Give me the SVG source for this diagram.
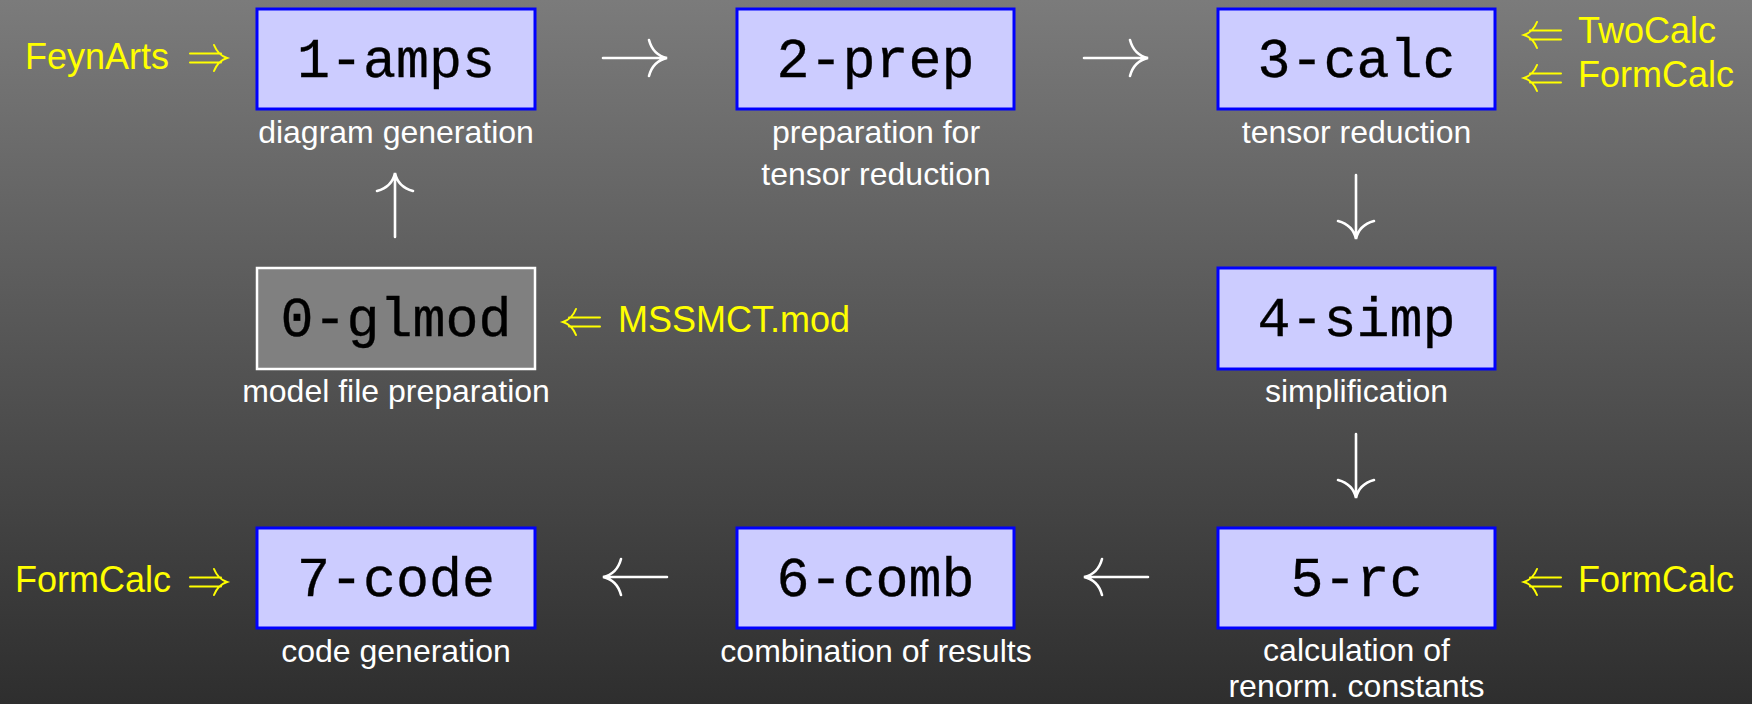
<svg xmlns="http://www.w3.org/2000/svg" xmlns:xlink="http://www.w3.org/1999/xlink" width="1752" height="704" viewBox="0 0 1752 704">
<defs>
  <linearGradient id="bg" x1="0" y1="0" x2="0" y2="1">
    <stop offset="0" stop-color="#7b7b7b"/>
    <stop offset="1" stop-color="#2e2e2e"/>
  </linearGradient>
  <path id="arr" d="M0,0 H63 M46,-18 Q50,-3 64,0 Q50,3 46,18" fill="none" stroke="#ffffff" stroke-width="2.6" stroke-linecap="round"/>
  <path id="darr" d="M0,-4.5 H31 M0,4.5 H31 M24,-13 Q28,-3 37,0 Q28,3 24,13" fill="none" stroke="#ffff00" stroke-width="2" stroke-linecap="round"/>
  <style>
    .box { fill: #ccccff; stroke: #0000ff; stroke-width: 3; }
    .box0 { fill: #808080; stroke: #ffffff; stroke-width: 2.5; }
    .tt { font-family: "Liberation Mono", "DejaVu Sans Mono", monospace; font-size: 55px; fill: #000000; stroke: #000000; stroke-width: 0.35; text-anchor: middle; }
    .sub { font-family: "Liberation Sans", Arial, sans-serif; font-size: 32px; fill: #ffffff; text-anchor: middle; }
    .yl { font-family: "Liberation Sans", Arial, sans-serif; font-size: 36px; fill: #ffff00; }
  </style>
</defs>
<rect x="0" y="0" width="1752" height="704" fill="url(#bg)"/>

<g id="connectors">
  <use xlink:href="#arr" transform="translate(603,58)"/>
  <use xlink:href="#arr" transform="translate(1084,58)"/>
  <use xlink:href="#arr" transform="translate(1356,175) rotate(90)"/>
  <use xlink:href="#arr" transform="translate(1356,434) rotate(90)"/>
  <use xlink:href="#arr" transform="translate(1148,577) rotate(180)"/>
  <use xlink:href="#arr" transform="translate(667,577) rotate(180)"/>
  <use xlink:href="#arr" transform="translate(395,237) rotate(-90)"/>
</g>

<g id="node-1-amps">
  <rect class="box" x="257" y="9" width="278" height="100"/>
  <text class="tt" x="396" y="77">1-amps</text>
  <text class="sub" x="396" y="143">diagram generation</text>
</g>
<g id="node-2-prep">
  <rect class="box" x="737" y="9" width="277" height="100"/>
  <text class="tt" x="875.5" y="77">2-prep</text>
  <text class="sub" x="876" y="143">preparation for</text>
  <text class="sub" x="876" y="185">tensor reduction</text>
</g>
<g id="node-3-calc">
  <rect class="box" x="1218" y="9" width="277" height="100"/>
  <text class="tt" x="1356.5" y="77">3-calc</text>
  <text class="sub" x="1356.5" y="143">tensor reduction</text>
</g>
<g id="node-0-glmod">
  <rect class="box0" x="257" y="268" width="278" height="101"/>
  <text class="tt" x="396" y="336">0-glmod</text>
  <text class="sub" x="396" y="402">model file preparation</text>
</g>
<g id="node-4-simp">
  <rect class="box" x="1218" y="268" width="277" height="101"/>
  <text class="tt" x="1356.5" y="336">4-simp</text>
  <text class="sub" x="1356.5" y="402">simplification</text>
</g>
<g id="node-7-code">
  <rect class="box" x="257" y="528" width="278" height="100"/>
  <text class="tt" x="396" y="596">7-code</text>
  <text class="sub" x="396" y="662">code generation</text>
</g>
<g id="node-6-comb">
  <rect class="box" x="737" y="528" width="277" height="100"/>
  <text class="tt" x="875.5" y="596">6-comb</text>
  <text class="sub" x="876" y="662">combination of results</text>
</g>
<g id="node-5-rc">
  <rect class="box" x="1218" y="528" width="277" height="100"/>
  <text class="tt" x="1356.5" y="596">5-rc</text>
  <text class="sub" x="1356.5" y="661">calculation of</text>
  <text class="sub" x="1356.5" y="697">renorm. constants</text>
</g>

<g id="inputs">
  <text class="yl" x="25" y="69">FeynArts</text>
  <use xlink:href="#darr" transform="translate(190,58)"/>
  <use xlink:href="#darr" transform="translate(1561,35) rotate(180)"/>
  <text class="yl" x="1578" y="43">TwoCalc</text>
  <use xlink:href="#darr" transform="translate(1561,78) rotate(180)"/>
  <text class="yl" x="1578" y="87">FormCalc</text>
  <use xlink:href="#darr" transform="translate(600,322) rotate(180)"/>
  <text class="yl" x="618" y="332">MSSMCT.mod</text>
  <text class="yl" x="15" y="592">FormCalc</text>
  <use xlink:href="#darr" transform="translate(190,582)"/>
  <use xlink:href="#darr" transform="translate(1561,582) rotate(180)"/>
  <text class="yl" x="1578" y="592">FormCalc</text>
</g>
</svg>
